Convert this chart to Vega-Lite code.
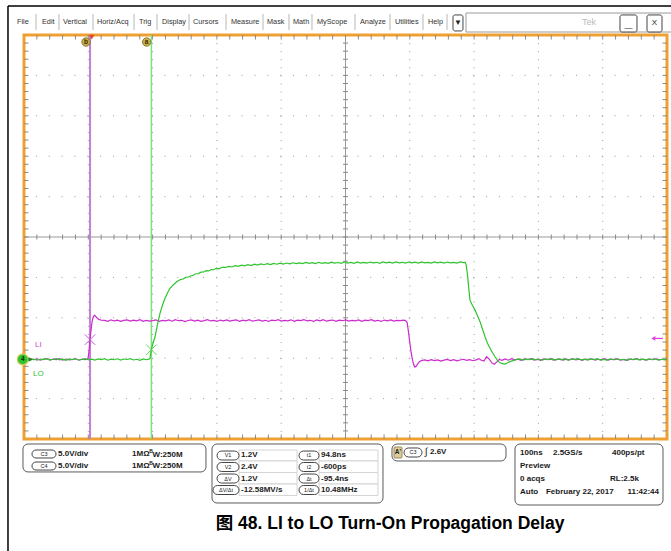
{
"$schema": "https://vega.github.io/schema/vega-lite/v6.json",
"width": 643, "height": 404,
"autosize": {"type": "none"},
"padding": {"left": 24, "top": 35, "right": 4, "bottom": 112},
"background": "white",
"config": {"view": {"stroke": "#f0a030", "strokeWidth": 3}, "font": "Liberation Sans"},
"datasets": {
"li": [{"t":-103.3,"v":0.02},{"t":-98,"v":-0.08},{"t":-93,"v":0.1},{"t":-88,"v":-0.04},{"t":-83,"v":0.06},{"t":-78,"v":-0.1},{"t":-73,"v":0.03},{"t":-68,"v":0.09},{"t":-63,"v":-0.07},{"t":-58,"v":0.04},{"t":-53,"v":-0.02},{"t":-48,"v":0.1},{"t":-43,"v":-0.09},{"t":-38,"v":0.05},{"t":-33,"v":-0.05},{"t":-28,"v":0.0},{"t":-23,"v":0.08},{"t":-18,"v":-0.1},{"t":-13,"v":0.03},{"t":-8,"v":-0.03},{"t":-5,"v":0.02},
{"t":-3.7,"v":0.1},{"t":-2.5,"v":0.8},{"t":-1.5,"v":1.7},{"t":-0.6,"v":2.45},{"t":0.5,"v":3.3},{"t":1.5,"v":4.0},{"t":2.5,"v":4.6},{"t":3.5,"v":5.0},{"t":5,"v":5.35},{"t":6.5,"v":5.45},{"t":8,"v":5.35},{"t":10,"v":5.15},{"t":13,"v":4.95},{"t":17,"v":4.85},
{"t":22,"v":4.82},{"t":27,"v":4.72},{"t":32,"v":4.9},{"t":37,"v":4.76},{"t":42,"v":4.85},{"t":47,"v":4.7},{"t":52,"v":4.83},{"t":57,"v":4.9},{"t":62,"v":4.74},{"t":67,"v":4.86},{"t":72,"v":4.78},{"t":77,"v":4.92},{"t":82,"v":4.71},{"t":87,"v":4.84},{"t":92,"v":4.75},{"t":97,"v":4.8},{"t":102,"v":4.89},{"t":107,"v":4.7},{"t":112,"v":4.83},{"t":117,"v":4.77},{"t":122,"v":4.88},{"t":127,"v":4.73},{"t":132,"v":4.91},{"t":137,"v":4.79},{"t":142,"v":4.84},{"t":147,"v":4.69},{"t":152,"v":4.82},{"t":157,"v":4.9},{"t":162,"v":4.75},{"t":167,"v":4.86},{"t":172,"v":4.72},{"t":177,"v":4.81},{"t":182,"v":4.93},{"t":187,"v":4.76},{"t":192,"v":4.84},{"t":197,"v":4.71},{"t":202,"v":4.87},{"t":207,"v":4.78},{"t":212,"v":4.9},{"t":217,"v":4.74},{"t":222,"v":4.83},{"t":227,"v":4.88},{"t":232,"v":4.7},{"t":237,"v":4.85},{"t":242,"v":4.77},{"t":247,"v":4.91},{"t":252,"v":4.73},{"t":257,"v":4.82},{"t":262,"v":4.89},{"t":267,"v":4.75},{"t":272,"v":4.84},{"t":277,"v":4.7},{"t":282,"v":4.86},{"t":287,"v":4.79},{"t":292,"v":4.92},{"t":297,"v":4.74},{"t":302,"v":4.83},{"t":307,"v":4.77},{"t":312,"v":4.9},{"t":317,"v":4.72},{"t":322,"v":4.85},{"t":327,"v":4.8},{"t":332,"v":4.93},{"t":337,"v":4.76},{"t":342,"v":4.84},{"t":347,"v":4.7},{"t":352,"v":4.88},{"t":357,"v":4.78},{"t":362,"v":4.91},{"t":367,"v":4.73},{"t":372,"v":4.82},{"t":377,"v":4.87},{"t":382,"v":4.71},{"t":387,"v":4.85},{"t":392,"v":4.79},{"t":397,"v":4.9},{"t":402,"v":4.74},{"t":407,"v":4.83},{"t":412,"v":4.77},{"t":417,"v":4.89},{"t":422,"v":4.72},{"t":427,"v":4.86},{"t":432,"v":4.8},{"t":437,"v":4.92},{"t":442,"v":4.75},{"t":447,"v":4.84},{"t":452,"v":4.7},{"t":457,"v":4.87},{"t":462,"v":4.78},{"t":467,"v":4.9},{"t":472,"v":4.74},{"t":477,"v":4.83},{"t":482,"v":4.79},{"t":487,"v":4.86},{"t":490,"v":4.8},
{"t":492.5,"v":4.6},{"t":494.5,"v":3.5},{"t":496.5,"v":2.2},{"t":498.5,"v":1.0},{"t":500.5,"v":0.1},{"t":502.5,"v":-0.6},{"t":504.5,"v":-0.95},{"t":506.5,"v":-0.85},{"t":509,"v":-0.55},{"t":512,"v":-0.25},{"t":516,"v":-0.12},
{"t":520,"v":-0.05},{"t":525,"v":-0.18},{"t":530,"v":-0.02},{"t":535,"v":-0.15},{"t":540,"v":-0.06},{"t":545,"v":-0.2},{"t":550,"v":-0.08},{"t":555,"v":0.0},{"t":560,"v":-0.14},{"t":565,"v":-0.04},{"t":570,"v":-0.17},{"t":575,"v":-0.07},{"t":580,"v":0.02},{"t":585,"v":-0.12},{"t":590,"v":-0.03},{"t":595,"v":-0.16},{"t":600,"v":-0.05},
{"t":604,"v":0.1},{"t":608,"v":-0.1},{"t":612,"v":-0.2},{"t":616,"v":0.35},{"t":620,"v":0.05},{"t":624,"v":-0.4},{"t":628,"v":-0.6},{"t":632,"v":-0.3},{"t":636,"v":0.0},{"t":640,"v":-0.12},
{"t":645,"v":0.05},{"t":650,"v":-0.1},{"t":655,"v":0.08},{"t":660,"v":-0.06},{"t":665,"v":0.03},{"t":670,"v":-0.12},{"t":675,"v":0.06},{"t":680,"v":-0.02},{"t":685,"v":0.1},{"t":690,"v":-0.08},{"t":695,"v":0.02},{"t":700,"v":-0.11},{"t":705,"v":0.07},{"t":710,"v":-0.04},{"t":715,"v":0.09},{"t":720,"v":-0.1},{"t":725,"v":0.0},{"t":730,"v":0.06},{"t":735,"v":-0.09},{"t":740,"v":0.04},{"t":745,"v":-0.05},{"t":750,"v":0.1},{"t":755,"v":-0.07},{"t":760,"v":0.03},{"t":765,"v":-0.12},{"t":770,"v":0.05},{"t":775,"v":-0.03},{"t":780,"v":0.08},{"t":785,"v":-0.09},{"t":790,"v":0.02},{"t":795,"v":-0.06},{"t":800,"v":0.09},{"t":805,"v":-0.1},{"t":810,"v":0.04},{"t":815,"v":-0.02},{"t":820,"v":0.07},{"t":825,"v":-0.08},{"t":830,"v":0.01},{"t":835,"v":-0.11},{"t":840,"v":0.06},{"t":845,"v":-0.04},{"t":850,"v":0.1},{"t":855,"v":-0.07},{"t":860,"v":0.03},{"t":865,"v":-0.1},{"t":870,"v":0.05},{"t":875,"v":-0.03},{"t":880,"v":0.08},{"t":885,"v":-0.06},{"t":890,"v":0.02},{"t":896.7,"v":-0.04}],
"lo": [{"t":-103.3,"v":-0.03},{"t":-98,"v":0.08},{"t":-93,"v":-0.06},{"t":-88,"v":0.04},{"t":-83,"v":-0.1},{"t":-78,"v":0.05},{"t":-73,"v":-0.02},{"t":-68,"v":0.09},{"t":-63,"v":-0.08},{"t":-58,"v":0.02},{"t":-53,"v":0.1},{"t":-48,"v":-0.05},{"t":-43,"v":0.03},{"t":-38,"v":-0.11},{"t":-33,"v":0.06},{"t":-28,"v":-0.03},{"t":-23,"v":0.08},{"t":-18,"v":-0.07},{"t":-13,"v":0.01},{"t":-8,"v":0.1},{"t":-3,"v":-0.06},{"t":2,"v":0.04},{"t":7,"v":-0.09},{"t":12,"v":0.07},{"t":17,"v":-0.02},{"t":22,"v":0.09},{"t":27,"v":-0.1},{"t":32,"v":0.03},{"t":37,"v":-0.04},{"t":42,"v":0.08},{"t":47,"v":-0.08},{"t":52,"v":0.05},{"t":57,"v":-0.01},{"t":62,"v":0.1},{"t":67,"v":-0.07},{"t":72,"v":0.02},{"t":77,"v":-0.11},{"t":82,"v":0.06},{"t":87,"v":-0.04},{"t":91,"v":0.03},
{"t":92.7,"v":0.15},{"t":94.8,"v":1.2},{"t":97,"v":1.9},{"t":100.5,"v":2.8},{"t":104,"v":4.2},{"t":108.2,"v":5.7},{"t":112,"v":6.7},{"t":116,"v":7.56},{"t":120,"v":8.25},{"t":123.8,"v":8.8},{"t":129,"v":9.25},{"t":134.2,"v":9.6},
{"t":140,"v":9.88},{"t":144,"v":9.95},{"t":148,"v":10.15},{"t":152,"v":10.2},{"t":156,"v":10.33},{"t":160,"v":10.42},{"t":164,"v":10.6},{"t":168,"v":10.62},{"t":172,"v":10.8},{"t":176,"v":10.82},{"t":180,"v":10.98},{"t":184,"v":10.95},{"t":188,"v":11.12},{"t":192,"v":11.1},{"t":196,"v":11.3},{"t":200,"v":11.22},{"t":205,"v":11.4},{"t":210,"v":11.38},{"t":215,"v":11.52},{"t":220,"v":11.44},{"t":225,"v":11.6},{"t":230,"v":11.52},{"t":235,"v":11.66},{"t":240,"v":11.58},{"t":245,"v":11.72},{"t":250,"v":11.62},{"t":255,"v":11.78},{"t":260,"v":11.68},{"t":265,"v":11.82},{"t":270,"v":11.72},{"t":275,"v":11.85},{"t":280,"v":11.74},{"t":285,"v":11.88},{"t":290,"v":11.78},{"t":295,"v":11.92},{"t":300,"v":11.8},{"t":305,"v":11.93},{"t":310,"v":11.83},{"t":315,"v":11.96},{"t":320,"v":11.85},{"t":325,"v":11.94},{"t":330,"v":11.86},{"t":335,"v":12.0},{"t":340,"v":11.88},{"t":345,"v":11.97},{"t":350,"v":11.87},{"t":355,"v":12.02},{"t":360,"v":11.9},{"t":365,"v":11.98},{"t":370,"v":11.88},{"t":375,"v":12.04},{"t":380,"v":11.91},{"t":385,"v":11.99},{"t":390,"v":11.89},{"t":395,"v":12.05},{"t":400,"v":11.92},{"t":405,"v":12.0},{"t":410,"v":11.9},{"t":415,"v":12.06},{"t":420,"v":11.93},{"t":425,"v":12.01},{"t":430,"v":11.91},{"t":435,"v":12.05},{"t":440,"v":11.94},{"t":445,"v":12.02},{"t":450,"v":11.9},{"t":455,"v":12.06},{"t":460,"v":11.95},{"t":465,"v":12.03},{"t":470,"v":11.92},{"t":475,"v":12.07},{"t":480,"v":11.94},{"t":485,"v":12.02},{"t":490,"v":11.91},{"t":495,"v":12.05},{"t":500,"v":11.95},{"t":505,"v":12.03},{"t":510,"v":11.92},{"t":515,"v":12.07},{"t":520,"v":11.96},{"t":525,"v":12.01},{"t":530,"v":11.93},{"t":535,"v":12.06},{"t":540,"v":11.95},{"t":545,"v":12.03},{"t":550,"v":11.92},{"t":555,"v":12.05},{"t":560,"v":11.96},{"t":565,"v":12.02},{"t":570,"v":11.93},{"t":575,"v":12.06},{"t":580,"v":11.97},{"t":583,"v":12.0},
{"t":584.5,"v":11.6},{"t":586.4,"v":10.5},{"t":588.8,"v":8.5},{"t":590.4,"v":7.3},{"t":594,"v":6.7},{"t":598.1,"v":6.1},{"t":602,"v":5.4},{"t":605.9,"v":4.67},{"t":610,"v":3.7},{"t":613.7,"v":2.8},{"t":617.5,"v":2.0},{"t":621.5,"v":1.37},{"t":625.5,"v":0.8},{"t":629.2,"v":0.33},{"t":634.4,"v":-0.28},{"t":639,"v":-0.5},{"t":644.8,"v":-0.57},{"t":648,"v":-0.45},{"t":652.6,"v":-0.28},{"t":657,"v":-0.15},{"t":663,"v":0.0},
{"t":668,"v":0.06},{"t":673,"v":-0.08},{"t":678,"v":0.04},{"t":683,"v":-0.03},{"t":688,"v":0.1},{"t":693,"v":-0.07},{"t":698,"v":0.02},{"t":703,"v":-0.1},{"t":708,"v":0.07},{"t":713,"v":-0.02},{"t":718,"v":0.09},{"t":723,"v":-0.09},{"t":728,"v":0.03},{"t":733,"v":-0.05},{"t":738,"v":0.08},{"t":743,"v":-0.11},{"t":748,"v":0.05},{"t":753,"v":0.0},{"t":758,"v":0.1},{"t":763,"v":-0.06},{"t":768,"v":0.03},{"t":773,"v":-0.09},{"t":778,"v":0.07},{"t":783,"v":-0.03},{"t":788,"v":0.09},{"t":793,"v":-0.08},{"t":798,"v":0.01},{"t":803,"v":-0.1},{"t":808,"v":0.06},{"t":813,"v":-0.04},{"t":818,"v":0.08},{"t":823,"v":-0.07},{"t":828,"v":0.02},{"t":833,"v":-0.11},{"t":838,"v":0.05},{"t":843,"v":-0.02},{"t":848,"v":0.1},{"t":853,"v":-0.06},{"t":858,"v":0.03},{"t":863,"v":-0.09},{"t":868,"v":0.07},{"t":873,"v":-0.04},{"t":878,"v":0.08},{"t":883,"v":-0.08},{"t":888,"v":0.02},{"t":893,"v":-0.05},{"t":896.7,"v":0.04}],
"gx": [{"t":-3.3},{"t":96.7},{"t":196.7},{"t":296.7},{"t":496.7},{"t":596.7},{"t":696.7},{"t":796.7}],
"gy": [{"v":-4.85},{"v":0.15},{"v":5.15},{"v":10.15},{"v":20.15},{"v":25.15},{"v":30.15},{"v":35.15}],
"mx": [{"t":-83.3},{"t":-63.3},{"t":-43.3},{"t":-23.3},{"t":-3.3},{"t":16.7},{"t":36.7},{"t":56.7},{"t":76.7},{"t":96.7},{"t":116.7},{"t":136.7},{"t":156.7},{"t":176.7},{"t":196.7},{"t":216.7},{"t":236.7},{"t":256.7},{"t":276.7},{"t":296.7},{"t":316.7},{"t":336.7},{"t":356.7},{"t":376.7},{"t":396.7},{"t":416.7},{"t":436.7},{"t":456.7},{"t":476.7},{"t":496.7},{"t":516.7},{"t":536.7},{"t":556.7},{"t":576.7},{"t":596.7},{"t":616.7},{"t":636.7},{"t":656.7},{"t":676.7},{"t":696.7},{"t":716.7},{"t":736.7},{"t":756.7},{"t":776.7},{"t":796.7},{"t":816.7},{"t":836.7},{"t":856.7},{"t":876.7}],
"my": [{"v":-8.85},{"v":-7.85},{"v":-6.85},{"v":-5.85},{"v":-4.85},{"v":-3.85},{"v":-2.85},{"v":-1.85},{"v":-0.85},{"v":0.15},{"v":1.15},{"v":2.15},{"v":3.15},{"v":4.15},{"v":5.15},{"v":6.15},{"v":7.15},{"v":8.15},{"v":9.15},{"v":10.15},{"v":11.15},{"v":12.15},{"v":13.15},{"v":14.15},{"v":15.15},{"v":16.15},{"v":17.15},{"v":18.15},{"v":19.15},{"v":20.15},{"v":21.15},{"v":22.15},{"v":23.15},{"v":24.15},{"v":25.15},{"v":26.15},{"v":27.15},{"v":28.15},{"v":29.15},{"v":30.15},{"v":31.15},{"v":32.15},{"v":33.15},{"v":34.15},{"v":35.15},{"v":36.15},{"v":37.15},{"v":38.15},{"v":39.15}],
"menuText": [{"t":-114.2,"v":41.76,"s":"File"},{"t":-75.3,"v":41.76,"s":"Edit"},{"t":-42.6,"v":41.76,"s":"Vertical"},{"t":10.2,"v":41.76,"s":"Horiz/Acq"},{"t":75.5,"v":41.76,"s":"Trig"},{"t":111.3,"v":41.76,"s":"Display"},{"t":159.5,"v":41.76,"s":"Cursors"},{"t":218.6,"v":41.76,"s":"Measure"},{"t":274.6,"v":41.76,"s":"Mask"},{"t":315.0,"v":41.76,"s":"Math"},{"t":352.4,"v":41.76,"s":"MyScope"},{"t":419.2,"v":41.76,"s":"Analyze"},{"t":473.7,"v":41.76,"s":"Utilities"},{"t":525.0,"v":41.76,"s":"Help"}],
"menuSeps": [{"t":-84.6,"v":42.75,"v2":40.77},{"t":-48.9,"v":42.75,"v2":40.77},{"t":4.0,"v":42.75,"v2":40.77},{"t":67.8,"v":42.75,"v2":40.77},{"t":103.5,"v":42.75,"v2":40.77},{"t":153.3,"v":42.75,"v2":40.77},{"t":210.9,"v":42.75,"v2":40.77},{"t":268.4,"v":42.75,"v2":40.77},{"t":308.8,"v":42.75,"v2":40.77},{"t":344.6,"v":42.75,"v2":40.77},{"t":411.5,"v":42.75,"v2":40.77},{"t":465.9,"v":42.75,"v2":40.77},{"t":517.2,"v":42.75,"v2":40.77},{"t":554.6,"v":42.75,"v2":40.77}],
"bigBox": [{"t":584.1,"t2":916.9,"v":42.87,"v2":40.52}],
"buttons": [{"t":563.9,"t2":579.4,"v":42.63,"v2":40.65},{"t":823.6,"t2":850.0,"v":42.63,"v2":40.52},{"t":865.6,"t2":888.9,"v":42.63,"v2":40.52}],
"frame": [{"t":-128.2,"t2":920,"v":43.74,"v2":43.74},{"t":-128.2,"t2":-128.2,"v":43.74,"v2":-23.71}],
"panels": [{"t":-104.9,"t2":179.7,"v":-10.47,"v2":-13.93},{"t":189.1,"t2":455.0,"v":-10.47,"v2":-17.77},{"t":469.0,"t2":646.3,"v":-10.47,"v2":-12.57},{"t":660.3,"t2":890.5,"v":-10.47,"v2":-18.02}],
"cells": [{"t":231.1,"t2":321.3,"v":-11.21,"v2":-12.57},{"t":231.1,"t2":321.3,"v":-12.57,"v2":-14.0},{"t":231.1,"t2":321.3,"v":-14.0,"v2":-15.42},{"t":231.1,"t2":321.3,"v":-15.42,"v2":-16.84},{"t":355.5,"t2":447.2,"v":-11.21,"v2":-12.57},{"t":355.5,"t2":447.2,"v":-12.57,"v2":-14.0},{"t":355.5,"t2":447.2,"v":-14.0,"v2":-15.42},{"t":355.5,"t2":447.2,"v":-15.42,"v2":-16.84}],
"ovals": [{"t":-90.9,"t2":-53.5,"v":-11.21,"v2":-12.2},{"t":-90.9,"t2":-53.5,"v":-12.7,"v2":-13.69},{"t":196.9,"t2":231.1,"v":-11.34,"v2":-12.45},{"t":196.9,"t2":231.1,"v":-12.76,"v2":-13.87},{"t":196.9,"t2":231.1,"v":-14.18,"v2":-15.3},{"t":190.6,"t2":231.1,"v":-15.61,"v2":-16.72},{"t":324.4,"t2":355.5,"v":-11.34,"v2":-12.45},{"t":324.4,"t2":355.5,"v":-12.76,"v2":-13.87},{"t":324.4,"t2":355.5,"v":-14.18,"v2":-15.3},{"t":324.4,"t2":355.5,"v":-15.61,"v2":-16.72},{"t":487.7,"t2":515.7,"v":-10.96,"v2":-12.08}],
"ovalText": [{"t":-72.2,"v":-11.71,"s":"C3"},{"t":-72.2,"v":-13.19,"s":"C4"},{"t":214.0,"v":-11.89,"s":"V1"},{"t":214.0,"v":-13.32,"s":"V2"},{"t":214.0,"v":-14.74,"s":"ΔV"},{"t":210.9,"v":-16.16,"s":"ΔV/Δt"},{"t":339.9,"v":-11.89,"s":"t1"},{"t":339.9,"v":-13.32,"s":"t2"},{"t":339.9,"v":-14.74,"s":"Δt"},{"t":339.9,"v":-16.16,"s":"1/Δt"},{"t":501.7,"v":-11.52,"s":"C3"}],
"panelText": [{"t":-50.4,"v":-11.71,"s":"5.0V/div"},{"t":-50.4,"v":-13.19,"s":"5.0V/div"},{"t":64.7,"v":-11.71,"s":"1MΩ"},{"t":64.7,"v":-13.19,"s":"1MΩ"},{"t":96.5,"v":-11.77,"s":"W:250M"},{"t":96.5,"v":-13.25,"s":"W:250M"},
{"t":234.2,"v":-11.89,"s":"1.2V"},{"t":234.2,"v":-13.32,"s":"2.4V"},{"t":234.2,"v":-14.74,"s":"1.2V"},{"t":234.2,"v":-16.16,"s":"-12.58MV/s"},{"t":358.6,"v":-11.89,"s":"94.8ns"},{"t":358.6,"v":-13.32,"s":"-600ps"},{"t":358.6,"v":-14.74,"s":"-95.4ns"},{"t":358.6,"v":-16.16,"s":"10.48MHz"},
{"t":528.1,"v":-11.52,"s":"2.6V"},
{"t":668.1,"v":-11.62,"s":"100ns"},{"t":719.4,"v":-11.62,"s":"2.5GS/s"},{"t":811.2,"v":-11.62,"s":"400ps/pt"},{"t":668.1,"v":-13.23,"s":"Preview"},{"t":668.1,"v":-14.8,"s":"0 acqs"},{"t":808.0,"v":-14.8,"s":"RL:2.5k"},{"t":668.1,"v":-16.35,"s":"Auto"},{"t":708.5,"v":-16.35,"s":"February 22, 2017"}],
"panelTextR": [{"t":884.3,"v":-16.35,"s":"11:42:44"}],
"bwB": [{"t":91.5,"v":-11.3,"s":"B"},{"t":91.5,"v":-12.78,"s":"B"}]
},
"layer": [
{"data":{"name":"gx"},"mark":{"type":"rule","color":"#9a9a9a","strokeWidth":1,"strokeDash":[1,7.08]},
 "encoding":{"x":{"field":"t","type":"quantitative","scale":{"domain":[-103.3,896.7],"nice":false,"zero":false},"axis":null}}},
{"data":{"name":"gy"},"mark":{"type":"rule","color":"#9a9a9a","strokeWidth":1,"strokeDash":[1,11.86]},
 "encoding":{"y":{"field":"v","type":"quantitative","scale":{"domain":[-9.85,40.15],"nice":false,"zero":false},"axis":null}}},
{"data":{"values":[{"t":396.7}]},"mark":{"type":"rule","color":"#999999","strokeWidth":1},
 "encoding":{"x":{"field":"t","type":"quantitative","scale":{"domain":[-103.3,896.7],"nice":false,"zero":false},"axis":null}}},
{"data":{"values":[{"v":15.15}]},"mark":{"type":"rule","color":"#999999","strokeWidth":1},
 "encoding":{"y":{"field":"v","type":"quantitative","scale":{"domain":[-9.85,40.15],"nice":false,"zero":false},"axis":null}}},
{"data":{"name":"mx"},"mark":{"type":"tick","orient":"vertical","size":9,"thickness":1,"color":"#8a8a8a","clip":true,"opacity":1},
 "encoding":{"x":{"field":"t","type":"quantitative","scale":{"domain":[-103.3,896.7],"nice":false,"zero":false},"axis":null},"y":{"datum":40.15,"type":"quantitative","scale":{"domain":[-9.85,40.15],"nice":false,"zero":false},"axis":null}}},
{"data":{"name":"mx"},"mark":{"type":"tick","orient":"vertical","size":9,"thickness":1,"color":"#8a8a8a","clip":true,"opacity":1},
 "encoding":{"x":{"field":"t","type":"quantitative","scale":{"domain":[-103.3,896.7],"nice":false,"zero":false},"axis":null},"y":{"datum":-9.85,"type":"quantitative","scale":{"domain":[-9.85,40.15],"nice":false,"zero":false},"axis":null}}},
{"data":{"name":"mx"},"mark":{"type":"tick","orient":"vertical","size":5,"thickness":1,"color":"#8a8a8a","clip":true,"opacity":1},
 "encoding":{"x":{"field":"t","type":"quantitative","scale":{"domain":[-103.3,896.7],"nice":false,"zero":false},"axis":null},"y":{"datum":15.15,"type":"quantitative","scale":{"domain":[-9.85,40.15],"nice":false,"zero":false},"axis":null}}},
{"data":{"name":"my"},"mark":{"type":"tick","orient":"horizontal","size":9,"thickness":1,"color":"#8a8a8a","clip":true,"opacity":1},
 "encoding":{"y":{"field":"v","type":"quantitative","scale":{"domain":[-9.85,40.15],"nice":false,"zero":false},"axis":null},"x":{"datum":-103.3,"type":"quantitative","scale":{"domain":[-103.3,896.7],"nice":false,"zero":false},"axis":null}}},
{"data":{"name":"my"},"mark":{"type":"tick","orient":"horizontal","size":9,"thickness":1,"color":"#8a8a8a","clip":true,"opacity":1},
 "encoding":{"y":{"field":"v","type":"quantitative","scale":{"domain":[-9.85,40.15],"nice":false,"zero":false},"axis":null},"x":{"datum":896.7,"type":"quantitative","scale":{"domain":[-103.3,896.7],"nice":false,"zero":false},"axis":null}}},
{"data":{"name":"my"},"mark":{"type":"tick","orient":"horizontal","size":5,"thickness":1,"color":"#8a8a8a","clip":true,"opacity":1},
 "encoding":{"y":{"field":"v","type":"quantitative","scale":{"domain":[-9.85,40.15],"nice":false,"zero":false},"axis":null},"x":{"datum":396.7,"type":"quantitative","scale":{"domain":[-103.3,896.7],"nice":false,"zero":false},"axis":null}}},
{"data":{"values":[{"t":-0.6}]},"mark":{"type":"rule","color":"#c27fd6","strokeWidth":2},
 "encoding":{"x":{"field":"t","type":"quantitative","scale":{"domain":[-103.3,896.7],"nice":false,"zero":false},"axis":null}}},
{"data":{"values":[{"t":94.8}]},"mark":{"type":"rule","color":"#7fe07f","strokeWidth":1.5},
 "encoding":{"x":{"field":"t","type":"quantitative","scale":{"domain":[-103.3,896.7],"nice":false,"zero":false},"axis":null}}},
{"data":{"name":"li"},"mark":{"type":"line","color":"#cc2acc","strokeWidth":1.2},
 "encoding":{"x":{"field":"t","type":"quantitative","scale":{"domain":[-103.3,896.7],"nice":false,"zero":false},"axis":null},"y":{"field":"v","type":"quantitative","scale":{"domain":[-9.85,40.15],"nice":false,"zero":false},"axis":null}}},
{"data":{"name":"lo"},"mark":{"type":"line","color":"#2fc42f","strokeWidth":1.2},
 "encoding":{"x":{"field":"t","type":"quantitative","scale":{"domain":[-103.3,896.7],"nice":false,"zero":false},"axis":null},"y":{"field":"v","type":"quantitative","scale":{"domain":[-9.85,40.15],"nice":false,"zero":false},"axis":null}}},
{"data":{"values":[{"t":-0.6,"v":2.45}]},"mark":{"type":"point","shape":"M-1,-1L1,1M1,-1L-1,1","size":110,"filled":false,"color":"#c060d8","strokeWidth":1,"opacity":1},
 "encoding":{"x":{"field":"t","type":"quantitative","scale":{"domain":[-103.3,896.7],"nice":false,"zero":false},"axis":null},"y":{"field":"v","type":"quantitative","scale":{"domain":[-9.85,40.15],"nice":false,"zero":false},"axis":null}}},
{"data":{"values":[{"t":94.8,"v":1.2}]},"mark":{"type":"point","shape":"M-1,-1L1,1M1,-1L-1,1","size":110,"filled":false,"color":"#60d860","strokeWidth":1,"opacity":1},
 "encoding":{"x":{"field":"t","type":"quantitative","scale":{"domain":[-103.3,896.7],"nice":false,"zero":false},"axis":null},"y":{"field":"v","type":"quantitative","scale":{"domain":[-9.85,40.15],"nice":false,"zero":false},"axis":null}}},
{"data":{"values":[{"t":-6.9,"v":39.28,"s":"b"},{"t":87.5,"v":39.28,"s":"a"}]},"mark":{"type":"point","shape":"circle","size":70,"filled":true,"fill":"#c8b04c","stroke":"#7a6520","strokeWidth":0.8,"opacity":1},
 "encoding":{"x":{"field":"t","type":"quantitative","scale":{"domain":[-103.3,896.7],"nice":false,"zero":false},"axis":null},"y":{"field":"v","type":"quantitative","scale":{"domain":[-9.85,40.15],"nice":false,"zero":false},"axis":null}}},
{"data":{"values":[{"t":-6.9,"v":39.28,"s":"b"},{"t":87.5,"v":39.28,"s":"a"}]},"mark":{"type":"text","fontSize":6.5,"fontWeight":"bold","color":"#3a2a00","align":"center","baseline":"middle"},
 "encoding":{"x":{"field":"t","type":"quantitative","scale":{"domain":[-103.3,896.7],"nice":false,"zero":false},"axis":null},"y":{"field":"v","type":"quantitative","scale":{"domain":[-9.85,40.15],"nice":false,"zero":false},"axis":null},"text":{"field":"s"}}},
{"data":{"values":[{"t":2.0,"v":39.9}]},"mark":{"type":"point","shape":"triangle-down","size":30,"filled":true,"color":"#e04a20","opacity":1},
 "encoding":{"x":{"field":"t","type":"quantitative","scale":{"domain":[-103.3,896.7],"nice":false,"zero":false},"axis":null},"y":{"field":"v","type":"quantitative","scale":{"domain":[-9.85,40.15],"nice":false,"zero":false},"axis":null}}},
{"data":{"values":[{"t":-105.2,"v":0}]},"mark":{"type":"point","shape":"circle","size":120,"filled":true,"fill":"#2fc42f","stroke":"#d8cc60","strokeWidth":1.2,"opacity":1},
 "encoding":{"x":{"field":"t","type":"quantitative","scale":{"domain":[-103.3,896.7],"nice":false,"zero":false},"axis":null},"y":{"field":"v","type":"quantitative","scale":{"domain":[-9.85,40.15],"nice":false,"zero":false},"axis":null}}},
{"data":{"values":[{"t":-105.2,"v":0,"s":"4"}]},"mark":{"type":"text","fontSize":6.5,"fontWeight":"bold","color":"#0a300a","align":"center","baseline":"middle"},
 "encoding":{"x":{"field":"t","type":"quantitative","scale":{"domain":[-103.3,896.7],"nice":false,"zero":false},"axis":null},"y":{"field":"v","type":"quantitative","scale":{"domain":[-9.85,40.15],"nice":false,"zero":false},"axis":null},"text":{"field":"s"}}},
{"data":{"values":[{"t":-93.2,"v":0}]},"mark":{"type":"point","shape":"triangle-right","size":22,"filled":true,"color":"#1a8a1a","opacity":1},
 "encoding":{"x":{"field":"t","type":"quantitative","scale":{"domain":[-103.3,896.7],"nice":false,"zero":false},"axis":null},"y":{"field":"v","type":"quantitative","scale":{"domain":[-9.85,40.15],"nice":false,"zero":false},"axis":null}}},
{"data":{"values":[{"t":877,"t2":890.5,"v":2.6}]},"mark":{"type":"rule","color":"#e040e0","strokeWidth":1.2},
 "encoding":{"x":{"field":"t","type":"quantitative","scale":{"domain":[-103.3,896.7],"nice":false,"zero":false},"axis":null},"x2":{"field":"t2"},"y":{"field":"v","type":"quantitative","scale":{"domain":[-9.85,40.15],"nice":false,"zero":false},"axis":null}}},
{"data":{"values":[{"t":875.5,"v":2.6}]},"mark":{"type":"point","shape":"triangle-left","size":22,"filled":true,"color":"#e040e0","opacity":1},
 "encoding":{"x":{"field":"t","type":"quantitative","scale":{"domain":[-103.3,896.7],"nice":false,"zero":false},"axis":null},"y":{"field":"v","type":"quantitative","scale":{"domain":[-9.85,40.15],"nice":false,"zero":false},"axis":null}}},
{"data":{"values":[{"t":-86.2,"v":1.78,"s":"LI"}]},"mark":{"type":"text","fontSize":8,"color":"#cc44cc","align":"left","baseline":"middle"},
 "encoding":{"x":{"field":"t","type":"quantitative","scale":{"domain":[-103.3,896.7],"nice":false,"zero":false},"axis":null},"y":{"field":"v","type":"quantitative","scale":{"domain":[-9.85,40.15],"nice":false,"zero":false},"axis":null},"text":{"field":"s"}}},
{"data":{"values":[{"t":-89.3,"v":-1.81,"s":"LO"}]},"mark":{"type":"text","fontSize":8,"color":"#33bb33","align":"left","baseline":"middle"},
 "encoding":{"x":{"field":"t","type":"quantitative","scale":{"domain":[-103.3,896.7],"nice":false,"zero":false},"axis":null},"y":{"field":"v","type":"quantitative","scale":{"domain":[-9.85,40.15],"nice":false,"zero":false},"axis":null},"text":{"field":"s"}}},
{"data":{"name":"frame"},"mark":{"type":"rule","color":"#000000","strokeWidth":1.5},
 "encoding":{"x":{"field":"t","type":"quantitative","scale":{"domain":[-103.3,896.7],"nice":false,"zero":false},"axis":null},"x2":{"field":"t2"},"y":{"field":"v","type":"quantitative","scale":{"domain":[-9.85,40.15],"nice":false,"zero":false},"axis":null},"y2":{"field":"v2"}}},
{"data":{"name":"menuSeps"},"mark":{"type":"rule","color":"#b8b8b8","strokeWidth":1},
 "encoding":{"x":{"field":"t","type":"quantitative","scale":{"domain":[-103.3,896.7],"nice":false,"zero":false},"axis":null},"y":{"field":"v","type":"quantitative","scale":{"domain":[-9.85,40.15],"nice":false,"zero":false},"axis":null},"y2":{"field":"v2"}}},
{"data":{"name":"menuText"},"mark":{"type":"text","fontSize":7.3,"color":"#333333","align":"left","baseline":"middle"},
 "encoding":{"x":{"field":"t","type":"quantitative","scale":{"domain":[-103.3,896.7],"nice":false,"zero":false},"axis":null},"y":{"field":"v","type":"quantitative","scale":{"domain":[-9.85,40.15],"nice":false,"zero":false},"axis":null},"text":{"field":"s"}}},
{"data":{"name":"bigBox"},"mark":{"type":"rect","fill":"white","stroke":"#9a9a9a","strokeWidth":1},
 "encoding":{"x":{"field":"t","type":"quantitative","scale":{"domain":[-103.3,896.7],"nice":false,"zero":false},"axis":null},"x2":{"field":"t2"},"y":{"field":"v","type":"quantitative","scale":{"domain":[-9.85,40.15],"nice":false,"zero":false},"axis":null},"y2":{"field":"v2"}}},
{"data":{"name":"buttons"},"mark":{"type":"rect","fill":"white","stroke":"#444444","strokeWidth":1,"cornerRadius":2},
 "encoding":{"x":{"field":"t","type":"quantitative","scale":{"domain":[-103.3,896.7],"nice":false,"zero":false},"axis":null},"x2":{"field":"t2"},"y":{"field":"v","type":"quantitative","scale":{"domain":[-9.85,40.15],"nice":false,"zero":false},"axis":null},"y2":{"field":"v2"}}},
{"data":{"values":[{"t":571.6,"v":41.64,"s":"▼"},{"t":836.8,"v":41.0,"s":"—"},{"t":877.3,"v":41.58,"s":"X"}]},"mark":{"type":"text","fontSize":8,"color":"#222222","align":"center","baseline":"middle"},
 "encoding":{"x":{"field":"t","type":"quantitative","scale":{"domain":[-103.3,896.7],"nice":false,"zero":false},"axis":null},"y":{"field":"v","type":"quantitative","scale":{"domain":[-9.85,40.15],"nice":false,"zero":false},"axis":null},"text":{"field":"s"}}},
{"data":{"values":[{"t":786.3,"v":41.76,"s":"Tek"}]},"mark":{"type":"text","fontSize":9,"color":"#bbbbbb","align":"right","baseline":"middle"},
 "encoding":{"x":{"field":"t","type":"quantitative","scale":{"domain":[-103.3,896.7],"nice":false,"zero":false},"axis":null},"y":{"field":"v","type":"quantitative","scale":{"domain":[-9.85,40.15],"nice":false,"zero":false},"axis":null},"text":{"field":"s"}}},
{"data":{"name":"panels"},"mark":{"type":"rect","fill":"white","stroke":"#5a5a5a","strokeWidth":1,"cornerRadius":5},
 "encoding":{"x":{"field":"t","type":"quantitative","scale":{"domain":[-103.3,896.7],"nice":false,"zero":false},"axis":null},"x2":{"field":"t2"},"y":{"field":"v","type":"quantitative","scale":{"domain":[-9.85,40.15],"nice":false,"zero":false},"axis":null},"y2":{"field":"v2"}}},
{"data":{"name":"cells"},"mark":{"type":"rect","fill":"white","stroke":"#d4d4d4","strokeWidth":1},
 "encoding":{"x":{"field":"t","type":"quantitative","scale":{"domain":[-103.3,896.7],"nice":false,"zero":false},"axis":null},"x2":{"field":"t2"},"y":{"field":"v","type":"quantitative","scale":{"domain":[-9.85,40.15],"nice":false,"zero":false},"axis":null},"y2":{"field":"v2"}}},
{"data":{"name":"ovals"},"mark":{"type":"rect","fill":"white","stroke":"#444444","strokeWidth":1,"cornerRadius":4.5},
 "encoding":{"x":{"field":"t","type":"quantitative","scale":{"domain":[-103.3,896.7],"nice":false,"zero":false},"axis":null},"x2":{"field":"t2"},"y":{"field":"v","type":"quantitative","scale":{"domain":[-9.85,40.15],"nice":false,"zero":false},"axis":null},"y2":{"field":"v2"}}},
{"data":{"values":[{"t":472.1,"t2":484.6,"v":-10.84,"v2":-12.2}]},"mark":{"type":"rect","fill":"#dccb9c","stroke":"#9a8a5a","strokeWidth":1,"cornerRadius":1},
 "encoding":{"x":{"field":"t","type":"quantitative","scale":{"domain":[-103.3,896.7],"nice":false,"zero":false},"axis":null},"x2":{"field":"t2"},"y":{"field":"v","type":"quantitative","scale":{"domain":[-9.85,40.15],"nice":false,"zero":false},"axis":null},"y2":{"field":"v2"}}},
{"data":{"values":[{"t":478.3,"v":-11.52,"s":"A'"}]},"mark":{"type":"text","fontSize":6.5,"fontWeight":"bold","color":"#222222","align":"center","baseline":"middle"},
 "encoding":{"x":{"field":"t","type":"quantitative","scale":{"domain":[-103.3,896.7],"nice":false,"zero":false},"axis":null},"y":{"field":"v","type":"quantitative","scale":{"domain":[-9.85,40.15],"nice":false,"zero":false},"axis":null},"text":{"field":"s"}}},
{"data":{"values":[{"t":521.9,"v":-11.52,"s":"∫"}]},"mark":{"type":"text","fontSize":10,"color":"#222222","align":"center","baseline":"middle"},
 "encoding":{"x":{"field":"t","type":"quantitative","scale":{"domain":[-103.3,896.7],"nice":false,"zero":false},"axis":null},"y":{"field":"v","type":"quantitative","scale":{"domain":[-9.85,40.15],"nice":false,"zero":false},"axis":null},"text":{"field":"s"}}},
{"data":{"name":"ovalText"},"mark":{"type":"text","fontSize":5.5,"color":"#222222","align":"center","baseline":"middle"},
 "encoding":{"x":{"field":"t","type":"quantitative","scale":{"domain":[-103.3,896.7],"nice":false,"zero":false},"axis":null},"y":{"field":"v","type":"quantitative","scale":{"domain":[-9.85,40.15],"nice":false,"zero":false},"axis":null},"text":{"field":"s"}}},
{"data":{"name":"panelText"},"mark":{"type":"text","fontSize":8,"fontWeight":"bold","color":"#1a1a1a","align":"left","baseline":"middle"},
 "encoding":{"x":{"field":"t","type":"quantitative","scale":{"domain":[-103.3,896.7],"nice":false,"zero":false},"axis":null},"y":{"field":"v","type":"quantitative","scale":{"domain":[-9.85,40.15],"nice":false,"zero":false},"axis":null},"text":{"field":"s"}}},
{"data":{"name":"panelTextR"},"mark":{"type":"text","fontSize":8,"fontWeight":"bold","color":"#1a1a1a","align":"right","baseline":"middle"},
 "encoding":{"x":{"field":"t","type":"quantitative","scale":{"domain":[-103.3,896.7],"nice":false,"zero":false},"axis":null},"y":{"field":"v","type":"quantitative","scale":{"domain":[-9.85,40.15],"nice":false,"zero":false},"axis":null},"text":{"field":"s"}}},
{"data":{"name":"bwB"},"mark":{"type":"text","fontSize":5,"fontWeight":"bold","color":"#1a1a1a","align":"left","baseline":"middle"},
 "encoding":{"x":{"field":"t","type":"quantitative","scale":{"domain":[-103.3,896.7],"nice":false,"zero":false},"axis":null},"y":{"field":"v","type":"quantitative","scale":{"domain":[-9.85,40.15],"nice":false,"zero":false},"axis":null},"text":{"field":"s"}}},
{"data":{"values":[{"t":465.9,"v":-20.37,"s":"图 48. LI to LO Turn-On Propagation Delay"}]},"mark":{"type":"text","fontSize":17.5,"fontWeight":"bold","font":"Liberation Sans, Noto Sans CJK SC","color":"#000000","align":"center","baseline":"middle"},
 "encoding":{"x":{"field":"t","type":"quantitative","scale":{"domain":[-103.3,896.7],"nice":false,"zero":false},"axis":null},"y":{"field":"v","type":"quantitative","scale":{"domain":[-9.85,40.15],"nice":false,"zero":false},"axis":null},"text":{"field":"s"}}}
]
}
